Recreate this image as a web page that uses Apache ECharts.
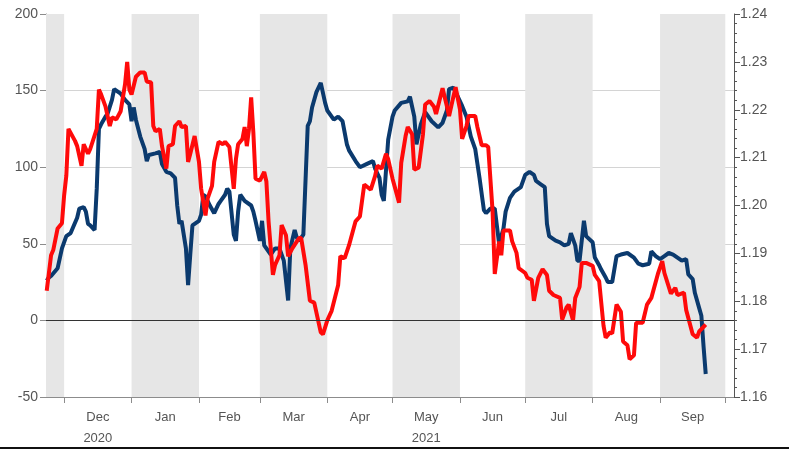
<!DOCTYPE html>
<html>
<head>
<meta charset="utf-8">
<script src="https://cdn.jsdelivr.net/npm/echarts@6/dist/echarts.min.js"></script>
<style>html,body{margin:0;padding:0;background:#fff;}#c{width:789px;height:449px;}</style>
</head>
<body>
<div id="c"></div>
<script>
// ---- data ----
const navyDates = ['2020-11-23','2020-11-24','2020-11-25','2020-11-28','2020-11-30','2020-12-02','2020-12-04','2020-12-07','2020-12-08','2020-12-10','2020-12-11','2020-12-12','2020-12-13','2020-12-15','2020-12-16','2020-12-17','2020-12-18','2020-12-20','2020-12-21','2020-12-23','2020-12-24','2020-12-25','2020-12-27','2020-12-29','2020-12-31','2021-01-01','2021-01-02','2021-01-03','2021-01-05','2021-01-07','2021-01-08','2021-01-09','2021-01-12','2021-01-14','2021-01-15','2021-01-17','2021-01-19','2021-01-21','2021-01-22','2021-01-23','2021-01-24','2021-01-26','2021-01-27','2021-01-28','2021-01-29','2021-02-01','2021-02-02','2021-02-03','2021-02-04','2021-02-06','2021-02-08','2021-02-10','2021-02-11','2021-02-13','2021-02-14','2021-02-15','2021-02-17','2021-02-18','2021-02-19','2021-02-20','2021-02-22','2021-02-25','2021-02-26','2021-02-27','2021-03-01','2021-03-02','2021-03-03','2021-03-06','2021-03-08','2021-03-10','2021-03-12','2021-03-14','2021-03-15','2021-03-17','2021-03-18','2021-03-19','2021-03-21','2021-03-23','2021-03-24','2021-03-25','2021-03-27','2021-03-29','2021-03-31','2021-04-01','2021-04-04','2021-04-06','2021-04-08','2021-04-10','2021-04-11','2021-04-14','2021-04-16','2021-04-19','2021-04-22','2021-04-23','2021-04-25','2021-04-26','2021-04-27','2021-04-29','2021-05-01','2021-05-02','2021-05-05','2021-05-08','2021-05-09','2021-05-11','2021-05-12','2021-05-14','2021-05-16','2021-05-19','2021-05-22','2021-05-24','2021-05-26','2021-05-27','2021-05-29','2021-05-31','2021-06-02','2021-06-04','2021-06-06','2021-06-08','2021-06-10','2021-06-12','2021-06-13','2021-06-15','2021-06-17','2021-06-19','2021-06-21','2021-06-22','2021-06-24','2021-06-26','2021-06-29','2021-07-01','2021-07-03','2021-07-05','2021-07-06','2021-07-08','2021-07-10','2021-07-11','2021-07-12','2021-07-15','2021-07-17','2021-07-19','2021-07-21','2021-07-22','2021-07-24','2021-07-25','2021-07-26','2021-07-28','2021-07-29','2021-08-01','2021-08-02','2021-08-04','2021-08-05','2021-08-07','2021-08-08','2021-08-10','2021-08-12','2021-08-14','2021-08-17','2021-08-20','2021-08-22','2021-08-24','2021-08-27','2021-08-28','2021-08-30','2021-09-01','2021-09-03','2021-09-05','2021-09-07','2021-09-09','2021-09-11','2021-09-13','2021-09-14','2021-09-16','2021-09-17','2021-09-19','2021-09-20','2021-09-21','2021-09-22'];
const navyValues = [26,28,29,34,47,55,57,67,73,74,71,63,62,59,86,125,128,133,135,144,151,150,148,144,141,130,139,131,120,112,104,108,109,110,102,97,96,93,75,63,65,47,23,43,62,65,69,82,81,75,70,76,78,82,86,84,56,52,71,82,78,75,71,65,52,65,49,43,47,47,39,13,47,59,54,52,56,127,130,139,149,155,142,137,131,133,130,115,111,104,100,102,104,99,93,82,78,118,133,137,142,143,146,133,115,128,136,130,126,129,137,151,152,146,140,133,120,112,93,72,70,73,73,50,60,71,80,84,87,95,97,95,91,89,87,63,55,52,51,49,50,57,49,39,39,65,55,51,41,36,33,28,25,25,42,43,44,41,37,36,37,45,42,40,42,44,43,41,39,40,30,27,18,8,3,-17,-35];

const redDates = ['2020-11-23','2020-11-25','2020-11-26','2020-11-28','2020-11-30','2020-12-01','2020-12-02','2020-12-03','2020-12-06','2020-12-07','2020-12-09','2020-12-10','2020-12-12','2020-12-13','2020-12-16','2020-12-17','2020-12-18','2020-12-20','2020-12-22','2020-12-23','2020-12-25','2020-12-27','2020-12-29','2020-12-30','2020-12-31','2021-01-01','2021-01-03','2021-01-05','2021-01-07','2021-01-08','2021-01-10','2021-01-11','2021-01-12','2021-01-14','2021-01-15','2021-01-17','2021-01-18','2021-01-20','2021-01-21','2021-01-23','2021-01-24','2021-01-26','2021-01-27','2021-01-28','2021-01-30','2021-02-01','2021-02-02','2021-02-04','2021-02-05','2021-02-07','2021-02-08','2021-02-10','2021-02-12','2021-02-13','2021-02-15','2021-02-17','2021-02-18','2021-02-19','2021-02-21','2021-02-22','2021-02-23','2021-02-24','2021-02-25','2021-02-26','2021-02-27','2021-03-01','2021-03-03','2021-03-04','2021-03-05','2021-03-07','2021-03-08','2021-03-10','2021-03-11','2021-03-13','2021-03-14','2021-03-16','2021-03-19','2021-03-20','2021-03-22','2021-03-24','2021-03-26','2021-03-29','2021-03-30','2021-04-01','2021-04-03','2021-04-06','2021-04-07','2021-04-09','2021-04-11','2021-04-14','2021-04-16','2021-04-18','2021-04-21','2021-04-23','2021-04-24','2021-04-26','2021-04-28','2021-04-29','2021-05-01','2021-05-04','2021-05-05','2021-05-07','2021-05-08','2021-05-10','2021-05-11','2021-05-13','2021-05-15','2021-05-16','2021-05-18','2021-05-20','2021-05-21','2021-05-24','2021-05-26','2021-05-27','2021-05-29','2021-05-30','2021-06-01','2021-06-02','2021-06-04','2021-06-05','2021-06-08','2021-06-09','2021-06-11','2021-06-13','2021-06-14','2021-06-16','2021-06-17','2021-06-19','2021-06-20','2021-06-21','2021-06-24','2021-06-25','2021-06-27','2021-06-28','2021-07-01','2021-07-02','2021-07-04','2021-07-05','2021-07-07','2021-07-09','2021-07-11','2021-07-12','2021-07-14','2021-07-17','2021-07-18','2021-07-20','2021-07-21','2021-07-23','2021-07-24','2021-07-26','2021-07-27','2021-07-29','2021-08-01','2021-08-02','2021-08-04','2021-08-06','2021-08-07','2021-08-09','2021-08-10','2021-08-12','2021-08-14','2021-08-15','2021-08-17','2021-08-18','2021-08-20','2021-08-21','2021-08-24','2021-08-26','2021-08-28','2021-08-31','2021-09-02','2021-09-03','2021-09-06','2021-09-08','2021-09-09','2021-09-12','2021-09-13','2021-09-16','2021-09-18','2021-09-19','2021-09-22'];
const redValues = [1.1822,1.1896,1.1907,1.1952,1.1963,1.2021,1.2062,1.2160,1.2135,1.2124,1.2083,1.2128,1.2108,1.2118,1.2160,1.2242,1.2232,1.2207,1.2166,1.2184,1.2180,1.2197,1.2253,1.2300,1.2242,1.2232,1.2269,1.2278,1.2278,1.2259,1.2257,1.2166,1.2155,1.2160,1.2124,1.2077,1.2124,1.2128,1.2166,1.2176,1.2164,1.2166,1.2091,1.2108,1.2145,1.2091,1.2035,1.1979,1.2015,1.2041,1.2091,1.2133,1.2128,1.2133,1.2122,1.2035,1.2097,1.2128,1.2139,1.2164,1.2124,1.2160,1.2226,1.2153,1.2056,1.2052,1.2070,1.2050,1.1967,1.1855,1.1876,1.1896,1.1959,1.1938,1.1894,1.1911,1.1932,1.1932,1.1876,1.1801,1.1797,1.1735,1.1731,1.1760,1.1780,1.1834,1.1894,1.1890,1.1917,1.1967,1.1977,1.2044,1.2033,1.2062,1.2083,1.2077,1.2108,1.2097,1.2056,1.2006,1.2089,1.2145,1.2164,1.2149,1.2075,1.2079,1.2149,1.2211,1.2218,1.2207,1.2191,1.2245,1.2207,1.2187,1.2228,1.2247,1.2201,1.2139,1.2166,1.2187,1.2187,1.2164,1.2126,1.2126,1.2122,1.1988,1.1857,1.1925,1.1896,1.1948,1.1948,1.1925,1.1901,1.1869,1.1859,1.1849,1.1845,1.1801,1.1849,1.1867,1.1855,1.1822,1.1813,1.1807,1.1762,1.1787,1.1793,1.1760,1.1807,1.1830,1.1880,1.1880,1.1874,1.1855,1.1842,1.1749,1.1724,1.1735,1.1733,1.1793,1.1778,1.1716,1.1708,1.1679,1.1687,1.1755,1.1755,1.1793,1.1807,1.1857,1.1884,1.1859,1.1816,1.1828,1.1813,1.1818,1.1782,1.1731,1.1724,1.1737,1.1751];

const monthStarts = ['2020-12-01','2021-01-01','2021-02-01','2021-03-01','2021-04-01','2021-05-01','2021-06-01','2021-07-01','2021-08-01','2021-09-01','2021-10-01'];
const monthNames = ['Dec','Jan','Feb','Mar','Apr','May','Jun','Jul','Aug','Sep'];
const yearUnder = {Dec:'2020', May:'2021'};
const shadedMonths = [['2020-11-22','2020-12-01'],['2021-01-01','2021-02-01'],['2021-03-01','2021-04-01'],['2021-05-01','2021-06-01'],['2021-07-01','2021-08-01'],['2021-09-01','2021-10-01']];
const leftTicks = {min:-50, max:200, interval:50};
const rightTicks = {min:1.16, max:1.24, interval:0.01};
const axisStart = '2020-11-22';
const axisEnd = '2021-10-05';

// ---- build ----
function ts(s){const p=s.split('-').map(Number);return Date.UTC(p[0],p[1]-1,p[2]);}
const startTs = ts(axisStart) + 16*3600*1000;
const endTs = ts(axisEnd);
const navyData = navyDates.map((d,i)=>[ts(d), navyValues[i]]);
const redData = redDates.map((d,i)=>[ts(d), redValues[i]]);
const tickTs = monthStarts.map(ts);
const labelTs = monthNames.map((m,i)=>(tickTs[i]+tickTs[i+1])/2);

const chart = echarts.init(document.getElementById('c'), null, {renderer:'canvas'});
const labelFont = 'Liberation Sans, Arial, sans-serif';
chart.setOption({
  animation:false,
  backgroundColor:'#fff',
  grid:{left:46, right:55, top:14, bottom:49, containLabel:false},
  xAxis:{
    type:'value', min:startTs, max:endTs, scale:true,
    axisLine:{show:true, onZero:false, lineStyle:{color:'#8c8c8c', width:1}},
    axisTick:{show:true, inside:false, length:6, lineStyle:{color:'#8c8c8c'}, customValues:tickTs},
    axisLabel:{show:true, customValues:labelTs, color:'#555', fontSize:13, fontFamily:labelFont, margin:10, lineHeight:21,
      formatter:function(v){
        for(let i=0;i<monthNames.length;i++){
          if(v>=tickTs[i] && v<tickTs[i+1]){const m=monthNames[i];return yearUnder[m]? m+'\n'+yearUnder[m] : m;}
        }
        return '';
      }},
    splitLine:{show:false}, minorTick:{show:false}
  },
  yAxis:[
    {type:'value', min:leftTicks.min, max:leftTicks.max, interval:leftTicks.interval, position:'left',
      axisLine:{show:true, lineStyle:{color:'#8c8c8c'}},
      axisTick:{show:true, inside:false, length:6, lineStyle:{color:'#8c8c8c'}},
      axisLabel:{color:'#555', fontSize:14, fontFamily:labelFont, margin:8},
      splitLine:{show:true, showMaxLine:false, lineStyle:{color:'#d4d4d4', width:1}}},
    {type:'value', min:rightTicks.min, max:rightTicks.max, interval:rightTicks.interval, position:'right',
      axisLine:{show:true, lineStyle:{color:'#555'}},
      axisTick:{show:true, inside:false, length:6, lineStyle:{color:'#555'}},
      minorTick:{show:true, splitNumber:5, length:3, lineStyle:{color:'#555'}},
      axisLabel:{color:'#555', fontSize:14, fontFamily:labelFont, margin:6, formatter:v=>v.toFixed(2)},
      splitLine:{show:false}}
  ],
  series:[
    {name:'spread', type:'line', yAxisIndex:0, data:navyData, showSymbol:false, symbol:'none',
      lineStyle:{color:'#0b3a6e', width:4}, z:3,
      markArea:{silent:true, itemStyle:{color:'#e6e6e6'}, z:1,
        data:shadedMonths.map(p=>[{xAxis: p[0]===axisStart? startTs : ts(p[0])},{xAxis:ts(p[1])}])},
      markLine:{silent:true, symbol:'none', label:{show:false}, lineStyle:{color:'#333', width:1, type:'solid'},
        data:[{yAxis:0}]}
    },
    {name:'EURUSD', type:'line', yAxisIndex:1, data:redData, showSymbol:false, symbol:'none',
      lineStyle:{color:'#ff0a0a', width:4}, z:4}
  ],
  graphic:[{type:'rect', left:0, bottom:0, shape:{width:789, height:2}, style:{fill:'#111'}, silent:true}]
});
</script>
</body>
</html>
